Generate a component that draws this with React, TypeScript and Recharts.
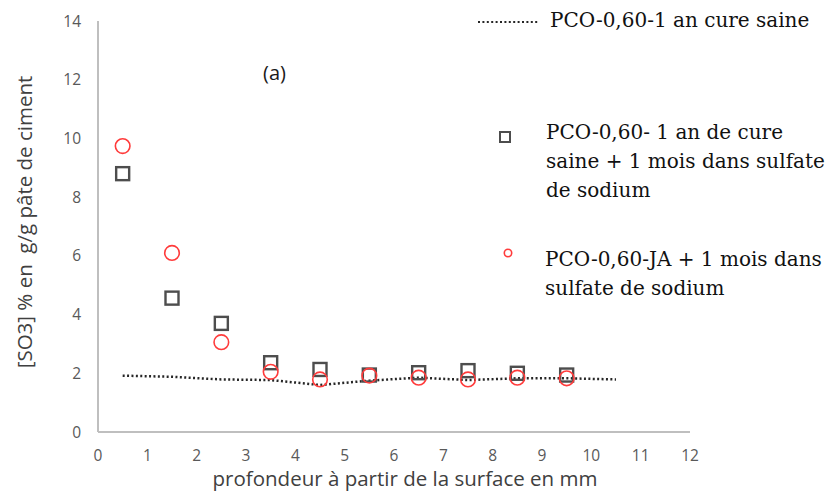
import { Scatter, ScatterChart, XAxis, YAxis } from "recharts";

const depth = [0.5, 1.5, 2.5, 3.5, 4.5, 5.5, 6.5, 7.5, 8.5, 9.5];
const saineDepth = [0.5, 1.5, 2.5, 3.5, 4.5, 5.5, 6.5, 7.5, 8.5, 9.5, 10.5];
const saine = [1.92, 1.88, 1.79, 1.77, 1.6, 1.75, 1.85, 1.77, 1.83, 1.83, 1.79];
const sulfate1an = [8.8, 4.56, 3.7, 2.36, 2.13, 1.94, 2.02, 2.09, 2.0, 1.94];
const ja = [9.74, 6.1, 3.06, 2.05, 1.79, 1.92, 1.85, 1.79, 1.85, 1.83];
const xTicks = [0, 1, 2, 3, 4, 5, 6, 7, 8, 9, 10, 11, 12];
const yTicks = [0, 2, 4, 6, 8, 10, 12, 14];

const saineData = saineDepth.map((x, i) => ({ x, y: saine[i] }));
const sulfateData = depth.map((x, i) => ({ x, y: sulfate1an[i] }));
const jaData = depth.map((x, i) => ({ x, y: ja[i] }));

const sans = "'Open Sans', 'Noto Sans', sans-serif";
const serif = "'DejaVu Serif', serif";

function SquareMark(props: any) {
  const { cx, cy } = props;
  return <rect x={cx - 6.5} y={cy - 6.5} width={13} height={13} fill="none" stroke="#4d4d4d" strokeWidth={2.4} />;
}

function CircleMark(props: any) {
  const { cx, cy } = props;
  return <circle cx={cx} cy={cy} r={7.3} fill="none" stroke="#ff3b3b" strokeWidth={1.6} />;
}

const tick = { fill: "#595959", fontSize: 15.5, fontFamily: sans };
const legendText = { position: "absolute" as const, fontFamily: serif, fontSize: 20, lineHeight: "29px", color: "#111", whiteSpace: "nowrap" as const };

export default function App() {
  return (
    <div style={{ position: "absolute", left: 0, top: 0, width: 827, height: 493, background: "#fff" }}>
      <ScatterChart width={827} height={493} margin={{ top: 21, right: 137, bottom: 0, left: 0 }}>
        <XAxis
          type="number"
          dataKey="x"
          domain={[0, 12]}
          ticks={xTicks}
          height={61}
          tickLine={false}
          tickSize={0}
          tickMargin={18}
          axisLine={{ stroke: "#bfbfbf", strokeWidth: 2 }}
          tick={tick}
        />
        <YAxis
          type="number"
          dataKey="y"
          domain={[0, 14]}
          ticks={yTicks}
          width={98}
          tickLine={false}
          tickSize={0}
          tickMargin={17}
          axisLine={{ stroke: "#bfbfbf", strokeWidth: 2 }}
          tick={tick}
        />
        <Scatter
          data={saineData}
          line={{ stroke: "#262626", strokeWidth: 2.5, strokeDasharray: "2 2.4" }}
          shape={() => <g />}
          isAnimationActive={false}
        />
        <Scatter data={sulfateData} shape={SquareMark} isAnimationActive={false} />
        <Scatter data={jaData} shape={CircleMark} isAnimationActive={false} />
      </ScatterChart>

      <div style={{ position: "absolute", left: 263, top: 59, fontFamily: sans, fontSize: 20, color: "#1a1a1a" }}>(a)</div>

      <div
        style={{
          position: "absolute",
          left: 405,
          top: 478,
          transform: "translate(-50%, -50%)",
          whiteSpace: "nowrap",
          fontFamily: sans,
          fontSize: 20.5,
          color: "#404040"
        }}
      >
        profondeur à partir de la surface en mm
      </div>
      <div
        style={{
          position: "absolute",
          left: 24,
          top: 222,
          transform: "translate(-50%, -50%) rotate(-90deg)",
          whiteSpace: "pre",
          fontFamily: sans,
          fontSize: 20.5,
          color: "#404040"
        }}
      >
        {"[SO3] % en  g/g pâte de ciment"}
      </div>

      <svg style={{ position: "absolute", left: 470, top: 10 }} width={80} height={260}>
        <line x1={8} y1={12} x2={68} y2={12} stroke="#262626" strokeWidth={2} strokeDasharray="2 2.4" />
        <rect x={30} y={122} width={10} height={10} fill="none" stroke="#4d4d4d" strokeWidth={2} />
        <circle cx={38} cy={243} r={3.7} fill="none" stroke="#ff3b3b" strokeWidth={1.6} />
      </svg>

      <div style={{ ...legendText, left: 550, top: 6 }}>PCO-0,60-1 an cure saine</div>
      <div style={{ ...legendText, left: 546, top: 118 }}>
        PCO-0,60- 1 an de cure
        <br />
        saine + 1 mois dans sulfate
        <br />
        de sodium
      </div>
      <div style={{ ...legendText, left: 545, top: 245 }}>
        PCO-0,60-JA + 1 mois dans
        <br />
        sulfate de sodium
      </div>
    </div>
  );
}
